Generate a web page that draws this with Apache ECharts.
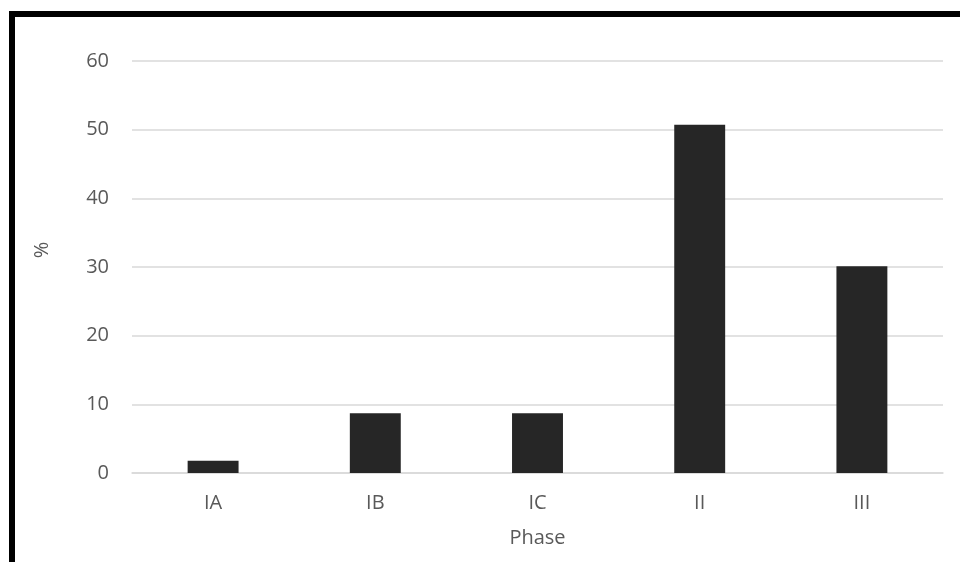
<!DOCTYPE html>
<html>
<head>
<meta charset="utf-8">
<script src="https://cdn.jsdelivr.net/npm/echarts@6/dist/echarts.min.js"></script>
<style>
  html, body { margin: 0; padding: 0; background: #ffffff; }
  #chart { width: 960px; height: 562px; }
</style>
</head>
<body>
<div id="chart"></div>
<script>
// Share of cases by phase (%)
const phases = ['IA', 'IB', 'IC', 'II', 'III'];
const percentages = [1.8, 8.7, 8.7, 50.7, 30.1];
const yTicks = { min: 0, max: 60, interval: 10 };

const textColor = '#595959';
const gridColor = '#d9d9d9';
const font = '"Open Sans", "Noto Sans", sans-serif';

const chart = echarts.init(document.getElementById('chart'), null, { renderer: 'canvas' });
chart.setOption({
  animation: false,
  backgroundColor: '#ffffff',
  grid: { left: 132, right: 17, top: 61, bottom: 89, containLabel: false },
  xAxis: {
    type: 'category',
    data: phases,
    name: 'Phase',
    nameLocation: 'middle',
    nameGap: 55,
    nameTextStyle: { color: textColor, fontSize: 20, fontFamily: font },
    axisLine: { lineStyle: { color: gridColor, width: 1.5 } },
    axisTick: { show: false },
    axisLabel: { color: textColor, fontSize: 20, fontFamily: font, margin: 20 }
  },
  yAxis: {
    type: 'value',
    min: yTicks.min,
    max: yTicks.max,
    interval: yTicks.interval,
    axisLine: { show: false },
    axisTick: { show: false },
    axisLabel: { color: textColor, fontSize: 20, fontFamily: font, margin: 23 },
    splitLine: { lineStyle: { color: gridColor, width: 1.5 } }
  },
  series: [{
    type: 'bar',
    data: percentages,
    barWidth: '31.4%',
    itemStyle: { color: '#262626' }
  }],
  graphic: [
    {
      type: 'text',
      x: 42,
      y: 250,
      rotation: Math.PI / 2,
      style: {
        text: '%',
        fill: textColor,
        font: '20px ' + font,
        align: 'center',
        verticalAlign: 'middle'
      }
    },
    {
      // frame drawn along the top and left edges
      type: 'rect',
      shape: { x: 12, y: 14, width: 1000, height: 600 },
      style: { fill: 'none', stroke: '#000000', lineWidth: 6 },
      silent: true
    }
  ]
});
</script>
</body>
</html>
